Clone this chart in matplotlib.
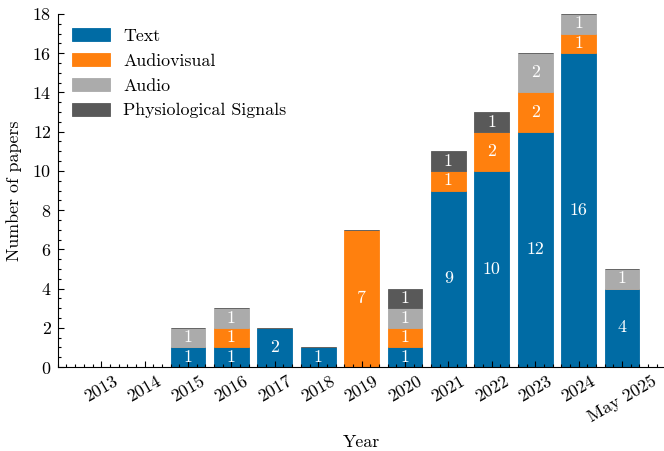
import matplotlib
matplotlib.use("Agg")
import matplotlib.pyplot as plt
from matplotlib.ticker import AutoMinorLocator, MultipleLocator
import numpy as np

# Papers per year by modality
years = ['2013', '2014', '2015', '2016', '2017', '2018', '2019', '2020',
         '2021', '2022', '2023', '2024', 'May 2025']
text = [0, 0, 1, 1, 2, 1, 0, 1, 9, 10, 12, 16, 4]
audiovisual = [0, 0, 0, 1, 0, 0, 7, 1, 1, 2, 2, 1, 0]
audio = [0, 0, 1, 1, 0, 0, 0, 1, 0, 0, 2, 1, 1]
physio = [0, 0, 0, 0, 0, 0, 0, 1, 1, 1, 0, 0, 0]

series = [('Text', text, '#006BA4'),
          ('Audiovisual', audiovisual, '#FF800E'),
          ('Audio', audio, '#ABABAB'),
          ('Physiological Signals', physio, '#595959')]

plt.rcParams['font.family'] = 'serif'
plt.rcParams['font.serif'] = ['cmr10']
plt.rcParams['axes.formatter.use_mathtext'] = True
plt.rcParams['font.size'] = 12.9
plt.rcParams['axes.unicode_minus'] = False

fig = plt.figure(figsize=(6.64, 4.51), dpi=100)
ax = fig.add_axes([57.8 / 664, 84 / 451, 607.6 / 664, 353 / 451])

x = np.arange(len(years))
bottom = np.zeros(len(years))
for name, vals, color in series:
    vals = np.array(vals, dtype=float)
    bars = ax.bar(x, vals, width=0.8, bottom=bottom, color=color,
                  edgecolor=color, linewidth=0.6, label=name)
    labels = [str(int(v)) if v > 0 else '' for v in vals]
    ax.bar_label(bars, labels=labels, label_type='center', color='white',
                 fontsize=12.9)
    bottom += vals

ax.set_xlim(-1, 13)
ax.set_ylim(0, 18)
ax.set_xticks(x)
ax.set_xticklabels(years, rotation=30)
ax.yaxis.set_major_locator(MultipleLocator(2))
ax.xaxis.set_minor_locator(AutoMinorLocator(5))
ax.yaxis.set_minor_locator(AutoMinorLocator(4))

ax.spines['top'].set_visible(False)
ax.spines['right'].set_visible(False)
ax.tick_params(which='both', direction='in', top=False, right=False)
ax.tick_params(which='major', length=4, width=0.8, pad=4.5)
ax.tick_params(which='minor', length=2.2, width=0.8)

ax.set_xlabel('Year', labelpad=7)
ax.set_ylabel('Number of papers', labelpad=7)

ax.legend(loc='upper left', frameon=False, handlelength=2.1,
          handleheight=0.75, handletextpad=0.75, labelspacing=0.5,
          borderaxespad=0.4)

fig.savefig('out.png', dpi=100)
